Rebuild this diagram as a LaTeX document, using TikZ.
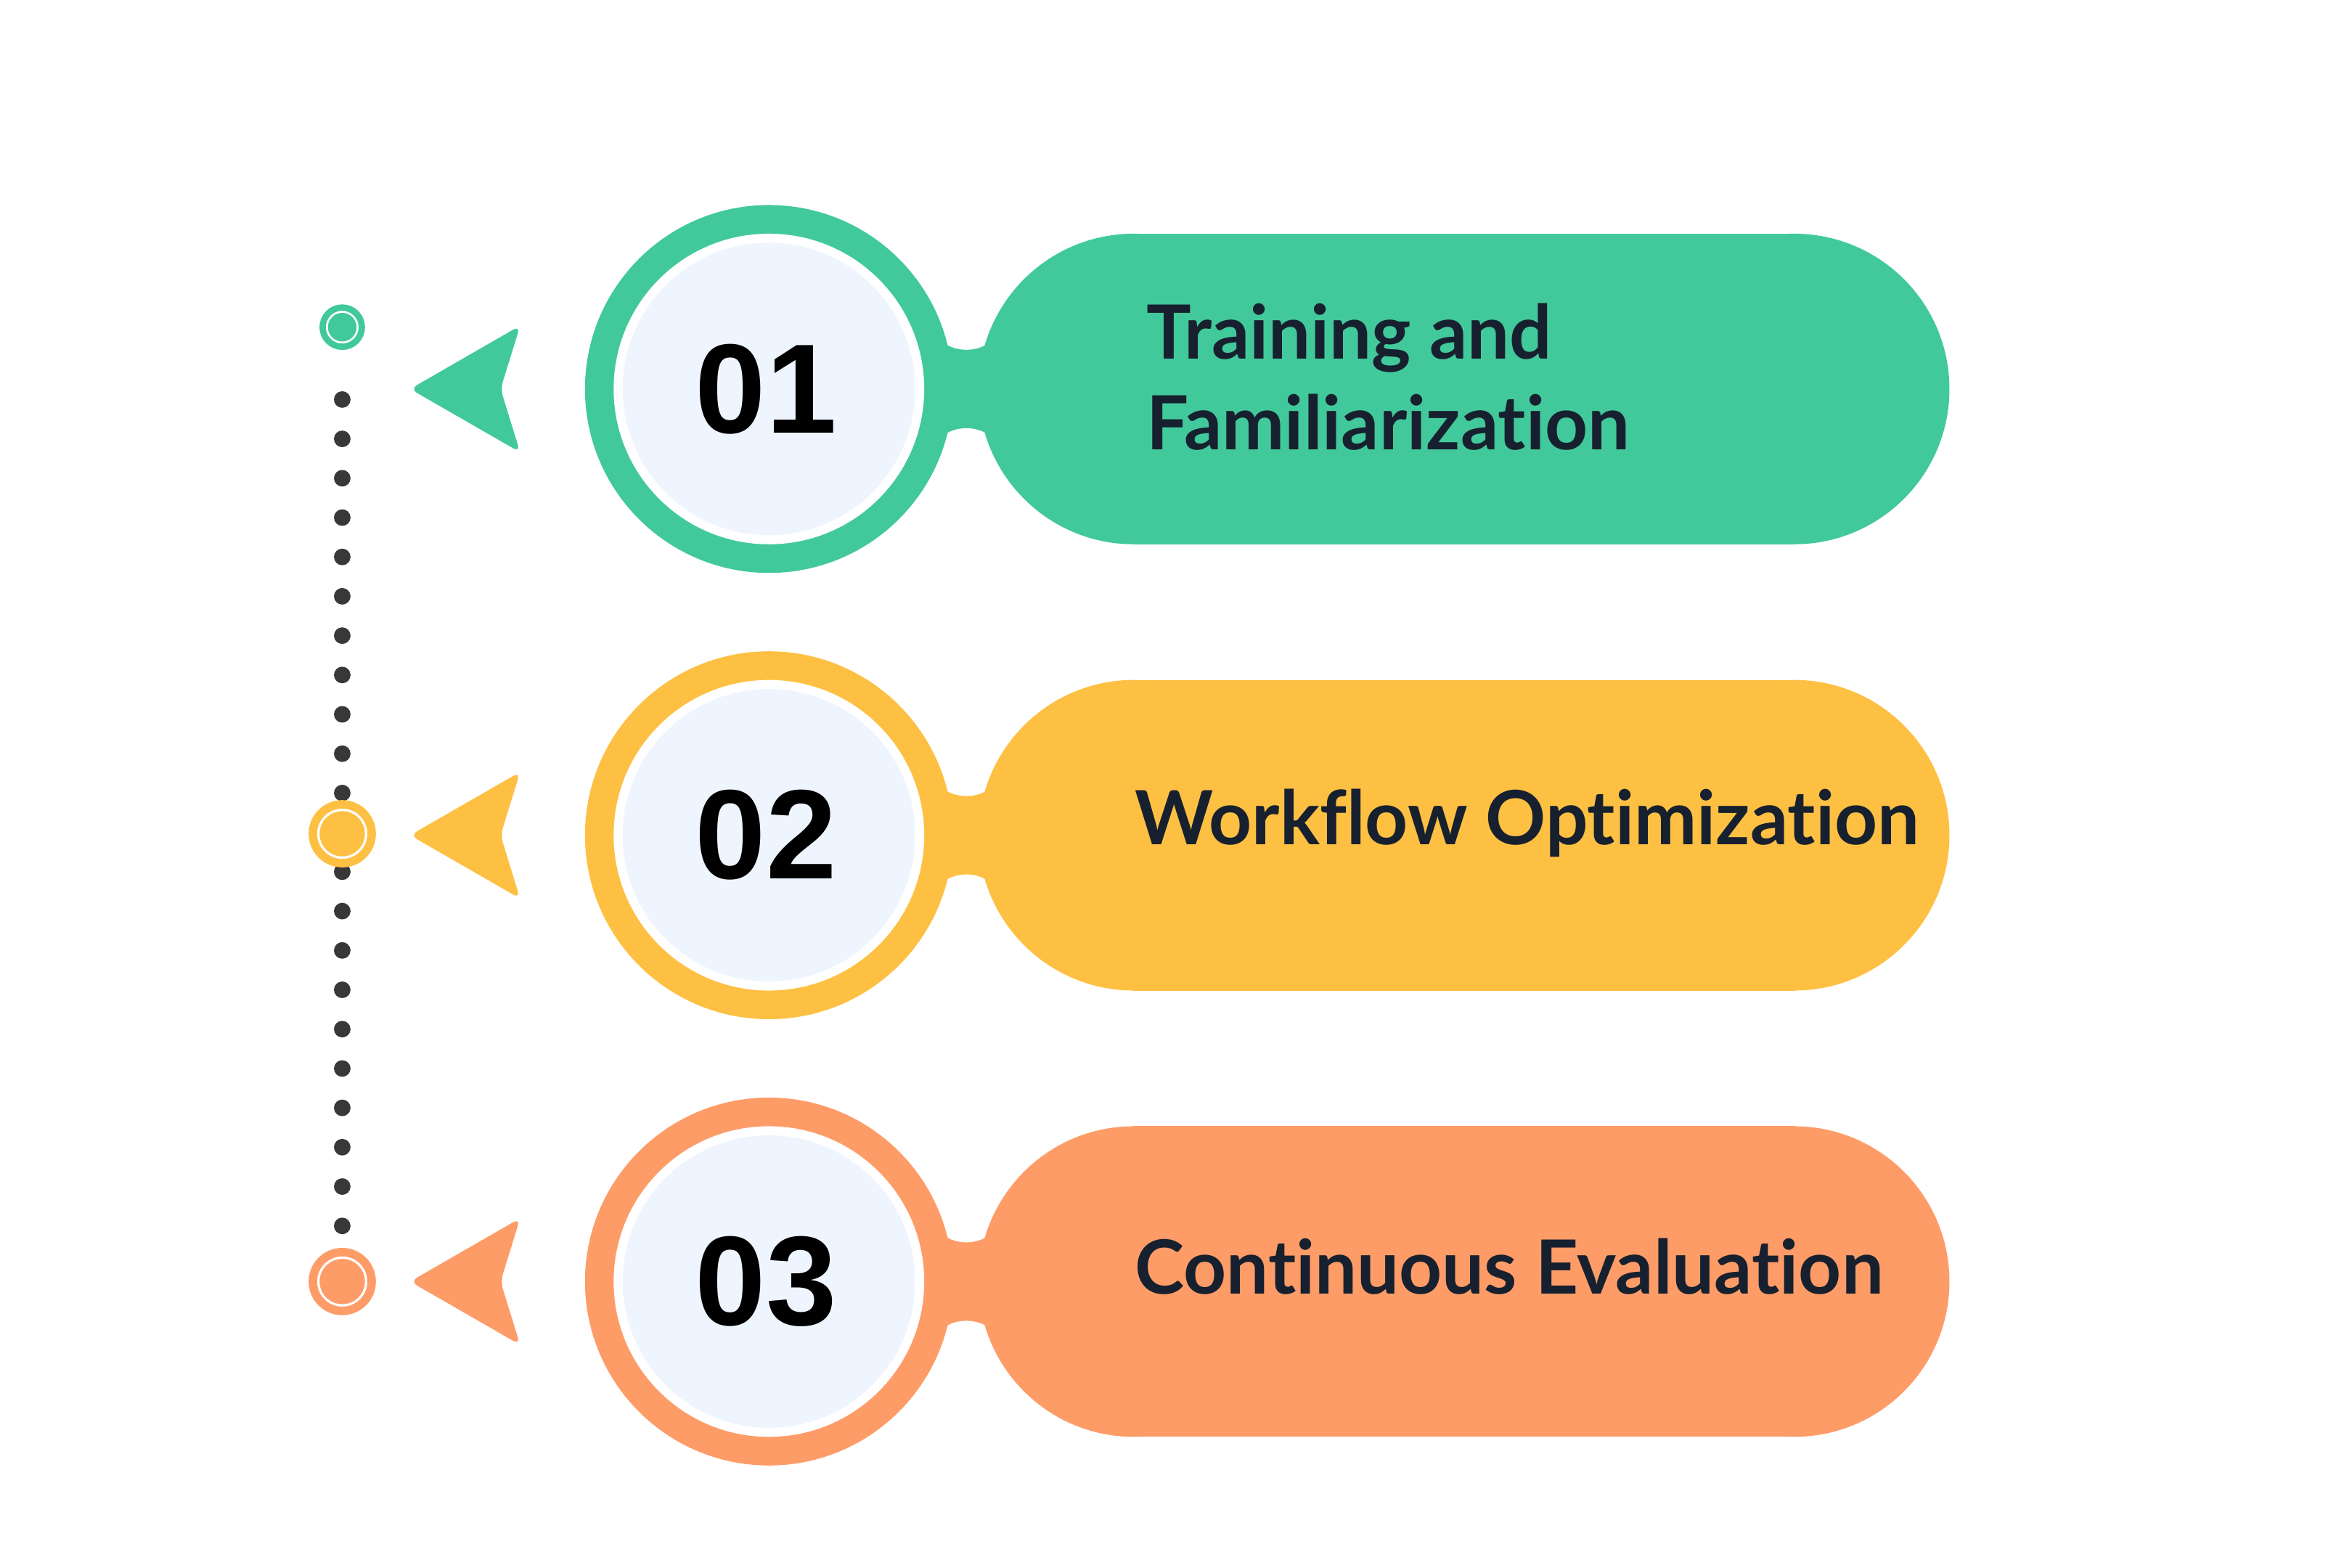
\documentclass[tikz,border=0pt]{standalone}
\usepackage{fontspec}
\setmainfont[Ligatures=NoCommon]{Lato}
\newfontfamily\numfont{Liberation Sans}
\definecolor{cg}{HTML}{42C99B}
\definecolor{cy}{HTML}{FEC043}
\definecolor{co}{HTML}{FE9C68}
\definecolor{lite}{HTML}{EFF5FE}
\definecolor{ink}{HTML}{17202E}
\definecolor{dotc}{HTML}{383838}
\begin{document}
\begin{tikzpicture}[x=0.01cm,y=-0.01cm,
  lbl/.style={font=\fontsize{14.1}{17}\selectfont\bfseries, text=ink, align=left, anchor=west, inner sep=0},
  num/.style={font=\numfont\fontsize{24}{26}\selectfont\bfseries, text=black, inner sep=0}]
\useasboundingbox (0,0) rectangle (1560,1040);
\fill[white] (0,0) rectangle (1560,1040);
% dotted line
\foreach \i in {0,...,21} \fill[dotc] (227,265+26.1*\i) circle (5.5);
\newcommand{\stage}[3]{%
  \begin{scope}[shift={(0,#1)}]
    \fill[#2] (618,-43) rectangle (664,43);
    \fill[white] (641,-53) circle (27);
    \fill[white] (641,53) circle (27);
    \fill[#2] (510,0) circle (122);
    \fill[#2] (752,0) circle (103);
    \fill[#2] (1190,0) circle (103);
    \fill[#2] (752,-103) rectangle (1190,103);
    \fill[white] (510,0) circle (103);
    \fill[lite] (510,0) circle (97);
    \node[num] (n#3) at (508,0) {#3};
    \fill[#2, rounded corners=1.5pt] (272,0) -- (345,-42) -- (332,0) -- (345,42) -- cycle;
  \end{scope}}
\stage{258}{cg}{01}
\stage{554}{cy}{02}
\stage{850}{co}{03}
% markers
\fill[white] (227,217) circle (14); \draw[cg, line width=1.2] (227,217) circle (13); \fill[cg] (227,217) circle (9.5);
\fill[white] (227,553) circle (21); \draw[cy, line width=1.6] (227,553) circle (19.5); \fill[cy] (227,553) circle (15);
\fill[white] (227,850) circle (21); \draw[co, line width=1.6] (227,850) circle (19.5); \fill[co] (227,850) circle (15);
% labels
\node[lbl] (t1) at (760,250) {Training and\\Familiarization};
\node[lbl] (t2) at (752,546) {Workflow Optimization};
\node[lbl] (t3) at (752,840) {Continuous Evaluation};
\end{tikzpicture}
\end{document}
